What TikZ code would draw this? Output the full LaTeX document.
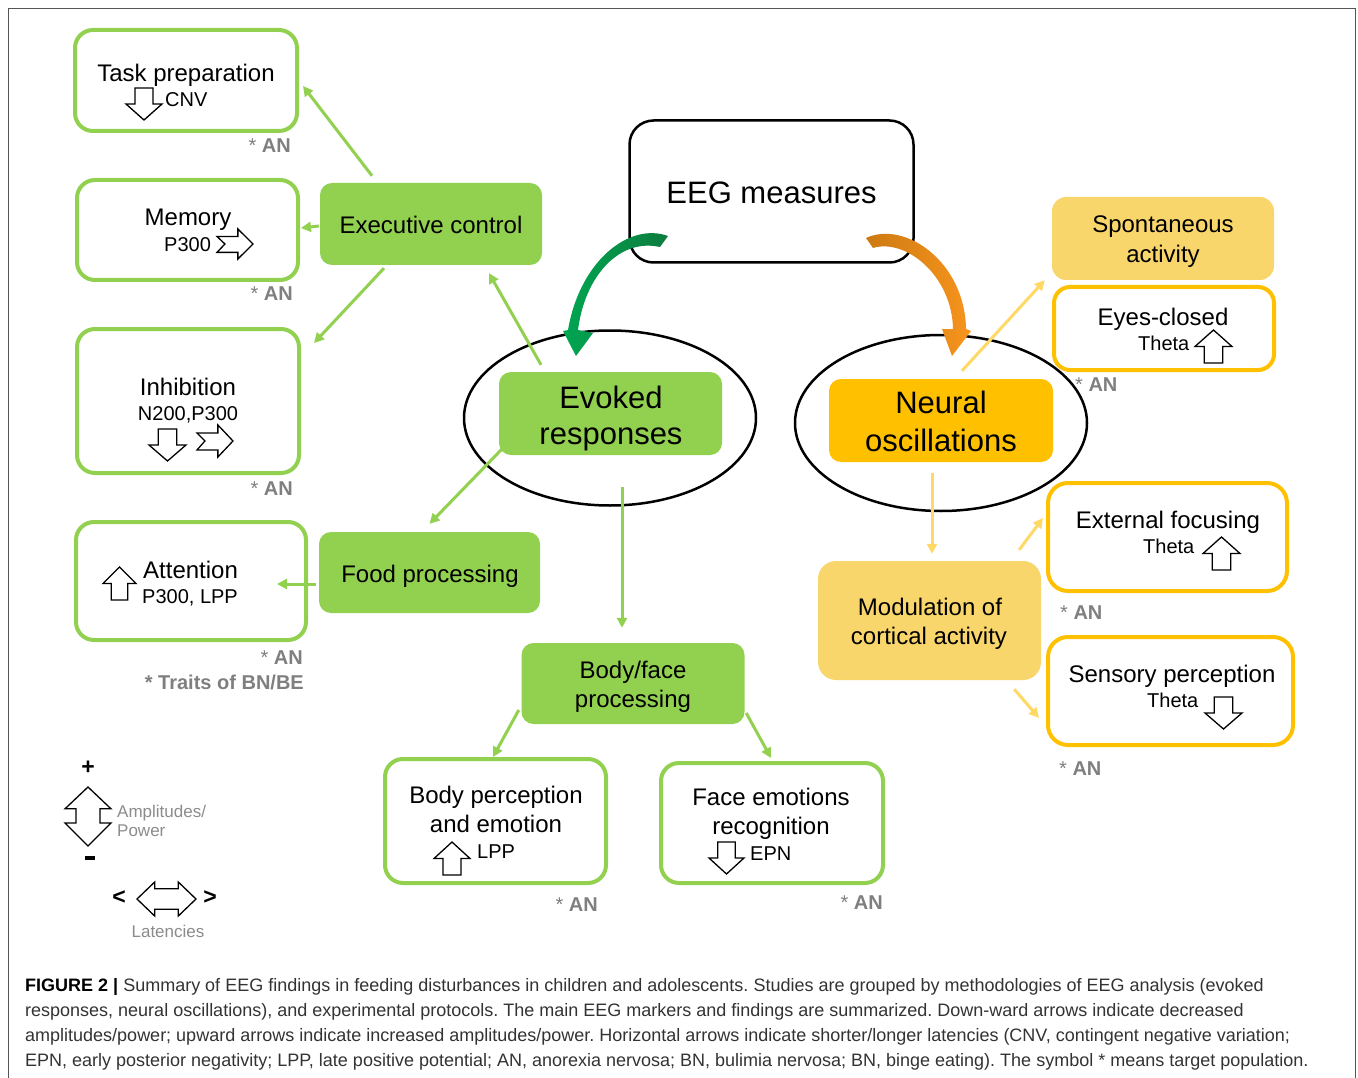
\documentclass[tikz,border=0pt]{standalone}
\usepackage{fontspec}
\setmainfont{Liberation Sans}
\usetikzlibrary{arrows.meta,shapes.geometric}
\definecolor{cGreen}{HTML}{92D050}
\definecolor{cGold}{HTML}{FFC000}
\definecolor{cLight}{HTML}{F9D66B}
\definecolor{cYel}{HTML}{FFD966}
\definecolor{cGray}{HTML}{7F7F7F}
\definecolor{cLeg}{HTML}{8C8C8C}
\definecolor{cDG}{HTML}{00A651}
\definecolor{cDG2}{HTML}{0E7C3F}
\definecolor{cOr}{HTML}{F7941D}
\definecolor{cOr2}{HTML}{CC7A12}
\definecolor{cCap}{HTML}{333333}
\definecolor{cFrame}{HTML}{555555}
\tikzset{
  gbox/.style={draw=cGreen, line width=4pt, fill=white, rounded corners=18pt, inner sep=0pt},
  ybox/.style={draw=cGold, line width=4pt, fill=white, rounded corners=16pt, inner sep=0pt},
  gfill/.style={fill=cGreen, rounded corners=12pt, inner sep=0pt},
  lfill/.style={fill=cLight, rounded corners=14pt, inner sep=0pt},
  ofill/.style={fill=cGold, rounded corners=12pt, inner sep=0pt},
  tA/.style={font=\fontsize{24}{29}\selectfont, inner sep=0pt},
  tB/.style={font=\fontsize{20}{24}\selectfont, inner sep=0pt},
  tC/.style={font=\fontsize{31}{37}\selectfont, inner sep=0pt},
  anlab/.style={font=\fontsize{20}{24}\selectfont\bfseries, text=cGray, inner sep=0pt},
  leglab/.style={font=\fontsize{17}{20}\selectfont, text=cLeg, inner sep=0pt},
  caplab/.style={font=\fontsize{18}{21}\selectfont\frenchspacing, text=cCap, inner sep=0pt},
  symb/.style={font=\fontsize{23}{25}\selectfont\bfseries, inner sep=0pt},
  garr/.style={draw=cGreen, line width=3pt, -{Triangle[length=10pt,width=10pt]}},
  yarr/.style={draw=cYel, line width=3pt, -{Triangle[length=10pt,width=10pt]}},
  blk/.style={draw=black, line width=1.3pt, fill=white, line join=miter},
  dnarr/.pic={\path[blk] (0.25,0) -- (0.75,0) -- (0.75,0.5) -- (1,0.5) -- (0.5,1) -- (0,0.5) -- (0.25,0.5) -- cycle;},
  uparr/.pic={\path[blk] (0.25,1) -- (0.75,1) -- (0.75,0.5) -- (1,0.5) -- (0.5,0) -- (0,0.5) -- (0.25,0.5) -- cycle;},
  rtarr/.pic={\path[blk] (0,0.25) -- (0.58,0.25) -- (0.58,0) -- (1,0.5) -- (0.58,1) -- (0.58,0.78) -- (0,0.78) -- (0.22,0.5) -- cycle;},
  vdbl/.pic={\path[blk] (0.5,0) -- (1,0.37) -- (0.76,0.37) -- (0.76,0.61) -- (1,0.61) -- (0.5,1) -- (0,0.61) -- (0.24,0.61) -- (0.24,0.37) -- (0,0.37) -- cycle;},
  hdbl/.pic={\path[blk] (0,0.5) -- (0.3,0) -- (0.3,0.2) -- (0.7,0.2) -- (0.7,0) -- (1,0.5) -- (0.7,1) -- (0.7,0.8) -- (0.3,0.8) -- (0.3,1) -- cycle;},
}
\begin{document}
\begin{tikzpicture}[x=1pt,y=-1pt]
\useasboundingbox (0,0) rectangle (1358,1078);
\fill[white] (0,0) rectangle (1358,1078);
% frame
\draw[cFrame, line width=1.5pt] (8.5,1090) -- (8.5,8.5) -- (1355.5,8.5) -- (1355.5,1090);

% ellipses
\node[ellipse, draw=black, line width=2.5pt, minimum width=292pt, minimum height=175pt] (ellE) at (610,418) {};
\node[ellipse, draw=black, line width=2.5pt, minimum width=292pt, minimum height=176pt] (ellN) at (941,423) {};

% EEG box
\node[draw=black, line width=2.5pt, fill=white, rounded corners=24pt, minimum width=284pt, minimum height=142pt] (eeg) at (771.5,191.5) {};

% green outlined boxes
\node[gbox, minimum width=222pt, minimum height=101pt] (task) at (186,80.5) {};
\node[gbox, minimum width=221pt, minimum height=100pt] (mem) at (187.5,230) {};
\node[gbox, minimum width=222pt, minimum height=144pt] (inh) at (188,401) {};
\node[gbox, minimum width=230pt, minimum height=118pt] (att) at (191,581) {};
\node[gbox, minimum width=221pt, minimum height=124pt] (bodyp) at (495.5,821) {};
\node[gbox, minimum width=222pt, minimum height=120pt] (face) at (772,823) {};

% green filled boxes
\node[gfill, minimum width=222pt, minimum height=82pt] (exec) at (431,224) {};
\node[gfill, minimum width=221pt, minimum height=81pt] (food) at (429.5,572.5) {};
\node[gfill, minimum width=223pt, minimum height=83pt] (evoked) at (610.5,413.5) {};
\node[gfill, minimum width=223pt, minimum height=81pt] (bodyface) at (633,683.5) {};

% yellow boxes
\node[ofill, minimum width=224pt, minimum height=83pt] (neural) at (941,420.5) {};
\node[lfill, minimum width=222pt, minimum height=83pt] (spont) at (1163,238.5) {};
\node[lfill, minimum width=223pt, minimum height=119pt, rounded corners=18pt] (modul) at (929.5,620.5) {};
\node[ybox, minimum width=220pt, minimum height=83pt] (eyes) at (1164,328.5) {};
\node[ybox, minimum width=239pt, minimum height=108pt, rounded corners=20pt] (ext) at (1167.5,537) {};
\node[ybox, minimum width=245pt, minimum height=108pt, rounded corners=20pt] (sens) at (1170.5,691) {};

% texts
\node[tC, anchor=base] (tEEG) at (771.5,204) {EEG measures};
\node[tC, anchor=base] (tEv1) at (611,408) {Evoked};
\node[tC, anchor=base] (tEv2) at (611,444) {responses};
\node[tC, anchor=base] (tNe1) at (941,413) {Neural};
\node[tC, anchor=base] (tNe2) at (941,451) {oscillations};

\node[tA, anchor=base] (tTask) at (186,82) {Task preparation};
\node[tB, anchor=base west] (tCNV) at (165,107) {CNV};
\node[tA, anchor=base] (tMem) at (188,226) {Memory};
\node[tB, anchor=base west] (tP300a) at (164,252) {P300};
\node[tA, anchor=base] (tInh) at (188,395) {Inhibition};
\node[tB, anchor=base] (tInh2) at (188,420) {N200,P300};
\node[tA, anchor=base west] (tAtt) at (143,578) {Attention};
\node[tB, anchor=base west] (tAtt2) at (142,603) {P300, LPP};

\node[tA, anchor=base] (tExec) at (431,234) {Executive control};
\node[tA, anchor=base] (tFood) at (430,582) {Food processing};
\node[tA, anchor=base] (tBF1) at (633,678) {Body/face};
\node[tA, anchor=base] (tBF2) at (633,707) {processing};
\node[tA, anchor=base] (tBP1) at (496,803) {Body perception};
\node[tA, anchor=base] (tBP2) at (496,832) {and emotion};
\node[tB, anchor=base west] (tLPP) at (477,858) {LPP};
\node[tA, anchor=base] (tFE1) at (771,805) {Face emotions};
\node[tA, anchor=base] (tFE2) at (771,834) {recognition};
\node[tB, anchor=base west] (tEPN) at (750,860) {EPN};

\node[tA, anchor=base] (tSp1) at (1163,233) {Spontaneous};
\node[tA, anchor=base] (tSp2) at (1163,262) {activity};
\node[tA, anchor=base] (tEye) at (1163,325) {Eyes-closed};
\node[tB, anchor=base west] (tTh1) at (1138,350) {Theta};
\node[tA, anchor=base] (tExt) at (1168,528) {External focusing};
\node[tB, anchor=base west] (tTh2) at (1143,553) {Theta};
\node[tA, anchor=base] (tSen) at (1172,682) {Sensory perception};
\node[tB, anchor=base west] (tTh3) at (1147,707) {Theta};
\node[tA, anchor=base] (tMo1) at (930,615) {Modulation of};
\node[tA, anchor=base] (tMo2) at (929,644) {cortical activity};

% * AN labels
\node[anlab, anchor=base east] (an1) at (291,153) {{\mdseries *} AN};
\node[anlab, anchor=base east] (an2) at (293,300) {{\mdseries *} AN};
\node[anlab, anchor=base east] (an3) at (293,495) {{\mdseries *} AN};
\node[anlab, anchor=base east] (an4) at (303,664) {{\mdseries *} AN};
\node[anlab, anchor=base east] (an5) at (304,689) {* Traits of BN/BE};
\node[anlab, anchor=base west] (an6) at (1075,391) {{\mdseries *} AN};
\node[anlab, anchor=base west] (an7) at (1060,619) {{\mdseries *} AN};
\node[anlab, anchor=base west] (an8) at (1059,775) {{\mdseries *} AN};
\node[anlab, anchor=base east] (an9) at (598,911) {{\mdseries *} AN};
\node[anlab, anchor=base east] (an10) at (883,909) {{\mdseries *} AN};

% block arrow icons
\pic[xscale=36, yscale=32] at (126,88) {dnarr};
\pic[xscale=36, yscale=30] at (217,229) {rtarr};
\pic[xscale=37, yscale=32] at (149,429) {dnarr};
\pic[xscale=36, yscale=32] at (197,425) {rtarr};
\pic[xscale=33, yscale=33] at (103,567) {uparr};
\pic[xscale=37, yscale=33] at (1195,330) {uparr};
\pic[xscale=37, yscale=33] at (1203,537) {uparr};
\pic[xscale=37, yscale=32] at (1205,697) {dnarr};
\pic[xscale=36, yscale=33] at (434,842) {uparr};
\pic[xscale=35, yscale=32] at (709,842) {dnarr};

% green connectors
\draw[garr] ([xshift=-59pt,yshift=7pt]exec.north) -- ([xshift=4pt,yshift=-5.5pt]task.east);
\draw[garr] ([xshift=-1pt,yshift=-2pt]exec.west) -- ([xshift=1pt,yshift=2pt]mem.east);
\draw[garr] ([xshift=-47pt,yshift=-3pt]exec.south) -- ([xshift=13pt,yshift=-16pt]inh.north east);
\draw[garr] ([xshift=-69.5pt,yshift=7pt]evoked.north) -- ([xshift=58pt,yshift=-8pt]exec.south);
\draw[garr] ([xshift=3pt,yshift=6pt]evoked.south west) -- ([yshift=8pt]food.north);
\draw[garr] ([xshift=-3pt,yshift=-11.5pt]food.west) -- ([xshift=-31pt,yshift=-3pt]att.east);
\draw[garr] ([xshift=11.5pt,yshift=-32pt]evoked.south) -- ([xshift=-11pt,yshift=15pt]bodyface.north);
\draw[garr] ([xshift=-2.5pt,yshift=-26.5pt]bodyface.west) -- ([xshift=-2.5pt]bodyp.north);
\draw[garr] ([xshift=1.5pt,yshift=-29.5pt]bodyface.east) -- ([xshift=-1pt,yshift=3pt]face.north);

% yellow connectors
\draw[yarr] ([xshift=21pt,yshift=8pt]neural.north) -- ([xshift=-7pt]spont.south west);
\draw[yarr] ([xshift=-9pt,yshift=-11pt]neural.south) -- ([xshift=2.5pt,yshift=7pt]modul.north);
\draw[yarr] ([xshift=-22pt,yshift=11pt]modul.north east) -- ([xshift=-3pt,yshift=19pt]ext.west);
\draw[yarr] ([xshift=-27pt,yshift=-9pt]modul.south east) -- ([xshift=-7pt,yshift=-27pt]sens.west);

% curved thick arrows
\shade[left color=cDG, right color=cDG2] (668,236) .. controls (630,222) and (580,260) .. (568,330)
  -- (563,331) -- (576,356) -- (593,333) -- (578,330)
  .. controls (585,275) and (620,238) .. (660,247) -- cycle;
\shade[left color=cOr2, right color=cOr] (866,238) .. controls (905,220) and (965,262) .. (966,329)
  -- (971,331) -- (952,356) -- (942,329) -- (953,329)
  .. controls (952,275) and (905,238) .. (873,248) -- cycle;

% legend
\node[symb] (lplus) at (88,768) {+};
\node[symb] (lminus) at (90,858) {\rule{10pt}{3.5pt}};
\pic[xscale=46, yscale=59] at (65,787) {vdbl};
\node[leglab, anchor=base west] (lamp1) at (117,817) {Amplitudes/};
\node[leglab, anchor=base west] (lamp2) at (117,836) {Power};
\node[symb] (llt) at (119,898) {<};
\node[symb] (lgt) at (210,898) {>};
\pic[xscale=59, yscale=34] at (137,882) {hdbl};
\node[leglab, anchor=base] (llat) at (168,937) {Latencies};

% caption
\node[caplab, anchor=base west] (cap1) at (25,991) {{\bfseries\color{black}FIGURE 2 |} Summary of EEG findings in feeding disturbances in children and adolescents. Studies are grouped by methodologies of EEG analysis (evoked};
\node[caplab, anchor=base west] (cap2) at (25,1016) {responses, neural oscillations), and experimental protocols. The main EEG markers and findings are summarized. Down-ward arrows indicate decreased};
\node[caplab, anchor=base west] (cap3) at (25,1041) {amplitudes/power; upward arrows indicate increased amplitudes/power. Horizontal arrows indicate shorter/longer latencies (CNV, contingent negative variation;};
\node[caplab, anchor=base west] (cap4) at (25,1066) {EPN, early posterior negativity; LPP, late positive potential; AN, anorexia nervosa; BN, bulimia nervosa; BN, binge eating). The symbol * means target population.};
\end{tikzpicture}
\end{document}
